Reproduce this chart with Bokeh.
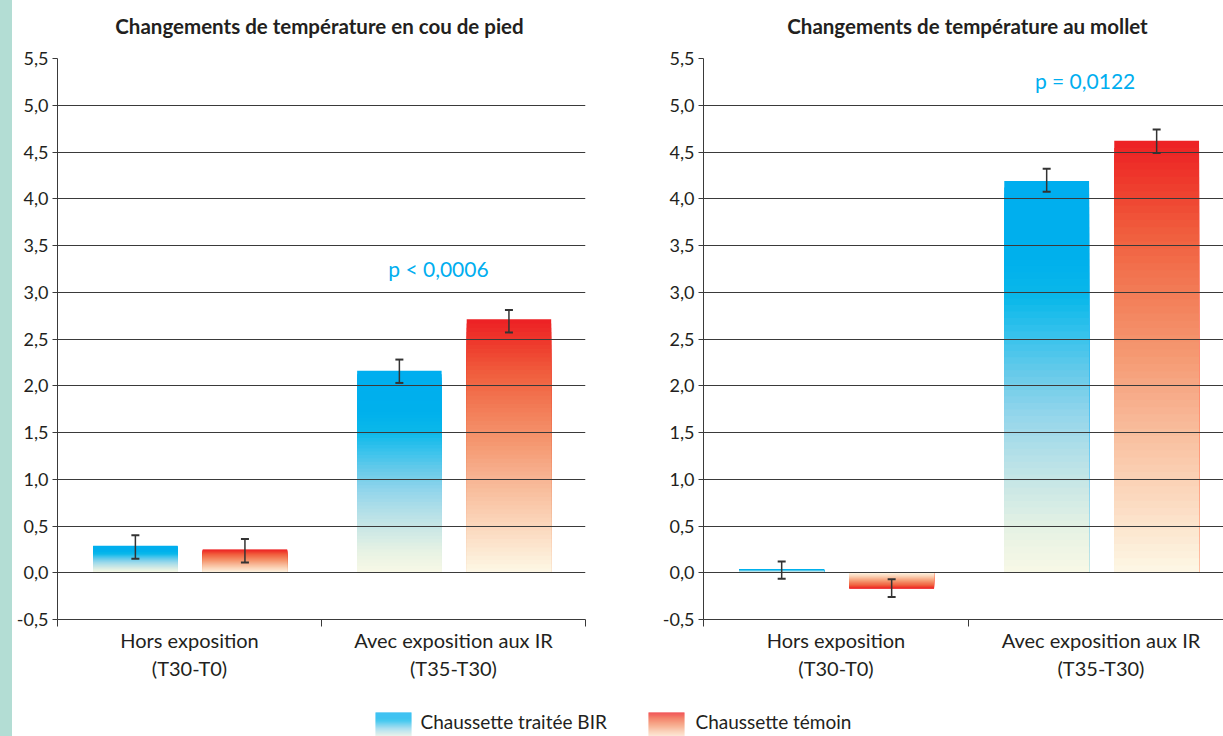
import json
from bokeh.plotting import figure
from bokeh.models import (ColumnDataSource, FixedTicker, CustomJSTickFormatter,
                          Whisker, TeeHead, Label, Div)
from bokeh.layouts import row, column
from bokeh.core.properties import value
from bokeh.embed import file_html
from bokeh.resources import INLINE

# ---------------- data ----------------
categories = ["Hors exposition\n(T30-T0)", "Avec exposition aux IR\n(T35-T30)"]
series = ["Chaussette traitée BIR", "Chaussette témoin"]
titles = ["Changements de température en cou de pied",
          "Changements de température au mollet"]

foot_bir = [0.29, 2.16]
foot_bir_low = [0.15, 2.03]
foot_bir_high = [0.40, 2.28]
foot_temoin = [0.25, 2.71]
foot_temoin_low = [0.11, 2.57]
foot_temoin_high = [0.36, 2.81]

calf_bir = [0.04, 4.19]
calf_bir_low = [-0.065, 4.075]
calf_bir_high = [0.12, 4.32]
calf_temoin = [-0.17, 4.62]
calf_temoin_low = [-0.26, 4.49]
calf_temoin_high = [-0.07, 4.74]

p_values = ["p < 0,0006", "p = 0,0122"]
p_positions = [(1.443, 3.25), (1.44, 5.26)]

y_ticks = [-0.5, 0.0, 0.5, 1.0, 1.5, 2.0, 2.5, 3.0, 3.5, 4.0, 4.5, 5.0, 5.5]

# ---------------- styles ----------------
FONT = "Lato"
TXT = "#231f20"
GRID = "#3a3a3a"
BLUE_STOPS = [(0.0, "#00aeef"), (0.2, "#00b0ec"), (0.3, "#0ab8ea"), (0.4, "#3ac3ec"),
              (0.5, "#6bcbea"), (0.6, "#94d6eb"), (0.7, "#b4e0e8"), (0.8, "#cfe9e5"),
              (0.9, "#e8f3e4"), (1.0, "#f8f8e6")]
RED_STOPS = [(0.0, "#ed2024"), (0.1, "#ee3b2d"), (0.2, "#f05a3b"), (0.3, "#f2714d"),
             (0.4, "#f38660"), (0.5, "#f59a73"), (0.6, "#f7ae8c"), (0.7, "#f9c3a3"),
             (0.8, "#fbd4b9"), (0.9, "#fce6cf"), (1.0, "#fdf8e6")]
OFFSETS = [-0.205, 0.21]
BAR_W = 0.32
NSLICE = 60
TITLE_H = 46
CHART_H = 654
LEG_H = 36


def hex2rgb(h):
    h = h.lstrip("#")
    return [int(h[i:i + 2], 16) for i in (0, 2, 4)]


def grad(stops, t):
    for (t0, c0), (t1, c1) in zip(stops[:-1], stops[1:]):
        if t <= t1:
            f = 0 if t1 == t0 else (t - t0) / (t1 - t0)
            a, b = hex2rgb(c0), hex2rgb(c1)
            return "#%02x%02x%02x" % tuple(int(round(a[i] + (b[i] - a[i]) * f)) for i in range(3))
    return stops[-1][1]


def gradient_quads(p, centers, values, stops, width):
    L, R, T, B, C = [], [], [], [], []
    for cx, v in zip(centers, values):
        # painter's order: full bar in far-end colour first, then shorter ones on top
        for k in range(NSLICE, 0, -1):
            frac = k / NSLICE
            t = 1 - (k - 0.5) / NSLICE
            L.append(cx - width / 2)
            R.append(cx + width / 2)
            B.append(0.0)
            T.append(v * frac)
            C.append(grad(stops, t))
    src = ColumnDataSource(dict(left=L, right=R, top=T, bottom=B, color=C))
    r = p.quad(left="left", right="right", top="top", bottom="bottom", source=src,
               fill_color="color", line_color=None)
    r.level = "image"
    return r


def make_chart(vals, lows, highs, ptxt, ppos, width, bl, br, x_end):
    p = figure(width=width, height=CHART_H, x_range=(0, x_end), y_range=(-0.5, 5.5),
               output_backend="svg", toolbar_location=None,
               min_border_left=bl, min_border_right=br, min_border_top=12,
               min_border_bottom=81)
    p.outline_line_color = None

    # y axis
    yax = p.yaxis[0]
    yax.ticker = FixedTicker(ticks=y_ticks)
    yax.formatter = CustomJSTickFormatter(code="return tick.toFixed(1).replace('.', ',');")
    yax.major_tick_out = 5
    yax.major_tick_in = 0
    yax.minor_tick_line_color = None
    yax.axis_line_color = GRID
    yax.major_tick_line_color = GRID
    yax.major_label_text_font = FONT
    yax.major_label_text_font_size = "18px"
    yax.major_label_text_color = TXT
    yax.major_label_standoff = 4

    # x axis (categories at index centres, separators as minor ticks)
    xax = p.xaxis[0]
    centres = [i + 0.5 for i in range(len(categories))]
    seps = [float(i) for i in range(len(categories) + 1)]
    xax.ticker = FixedTicker(ticks=centres, minor_ticks=seps)
    xax.formatter = CustomJSTickFormatter(
        code="const labels = %s; return labels[Math.floor(tick)];" % json.dumps(categories))
    xax.major_tick_line_color = None
    xax.minor_tick_out = 7
    xax.minor_tick_in = 0
    xax.minor_tick_line_color = GRID
    xax.axis_line_color = GRID
    xax.major_label_text_font = FONT
    xax.major_label_text_font_size = "20px"
    xax.major_label_text_color = TXT
    xax.major_label_standoff = 1

    p.xgrid.grid_line_color = None
    p.ygrid.ticker = FixedTicker(ticks=y_ticks)
    p.ygrid.grid_line_color = GRID
    p.ygrid.grid_line_width = 1

    stops = [BLUE_STOPS, RED_STOPS]
    for s in range(len(series)):
        cx = [c + OFFSETS[s] for c in centres]
        gradient_quads(p, cx, vals[s], stops[s], BAR_W)
        wsrc = ColumnDataSource(dict(x=cx, lo=lows[s], hi=highs[s]))
        w = Whisker(base="x", lower="lo", upper="hi", source=wsrc,
                    line_color="#333333", line_width=1.5,
                    upper_head=TeeHead(size=8, line_color="#333333", line_width=2),
                    lower_head=TeeHead(size=8, line_color="#333333", line_width=2))
        p.add_layout(w)

    p.add_layout(Label(x=ppos[0], y=ppos[1], text=ptxt, text_align="center",
                       text_baseline="middle", text_color="#00aeef",
                       text_font=FONT, text_font_size="21px"))
    return p


def blank_fig(width, height):
    f = figure(width=width, height=height, x_range=(0, width), y_range=(0, height),
               output_backend="svg", toolbar_location=None,
               min_border_left=0, min_border_right=0, min_border_top=0, min_border_bottom=0)
    f.axis.visible = False
    f.grid.grid_line_color = None
    f.outline_line_color = None
    return f


# titles strip
tfig = blank_fig(1211, TITLE_H)
tfig.text(x=[307, 955], y=[21, 21], text=titles, text_font=value(FONT),
          text_font_size="20.5px", text_font_style="bold", text_color=TXT,
          text_align="center", text_baseline="middle")

p1 = make_chart([foot_bir, foot_temoin], [foot_bir_low, foot_temoin_low],
                [foot_bir_high, foot_temoin_high], p_values[0], p_positions[0],
                638, 45, 65, 2.0)
p2 = make_chart([calf_bir, calf_temoin], [calf_bir_low, calf_temoin_low],
                [calf_bir_high, calf_temoin_high], p_values[1], p_positions[1],
                573, 53, 0, 520 / 265)

# legend strip
leg = blank_fig(1211, LEG_H)
sw_x = [363, 636]
sw_w = 36
for s, stops in enumerate([BLUE_STOPS, RED_STOPS]):
    L, R, T, B, C = [], [], [], [], []
    n = 24
    for k in range(n):
        T.append(24 - k * 1.0)
        B.append(T[-1] - 1.05)
        L.append(sw_x[s])
        R.append(sw_x[s] + sw_w)
        C.append(grad(stops, k / n * 0.9))
    leg.quad(left=L, right=R, top=T, bottom=B, fill_color=C, line_color=None)
leg.text(x=[sw_x[0] + sw_w + 9, sw_x[1] + sw_w + 11], y=[15, 15], text=series,
         text_font=value(FONT), text_font_size="19px", text_color=TXT,
         text_baseline="middle", text_align="left")

strip = Div(width=12, height=736, styles={"background-color": "#b3ddd4"}, margin=0)
layout = row(strip, column(tfig, row(p1, p2), leg))

open("out.html", "w").write(file_html(layout, INLINE))
